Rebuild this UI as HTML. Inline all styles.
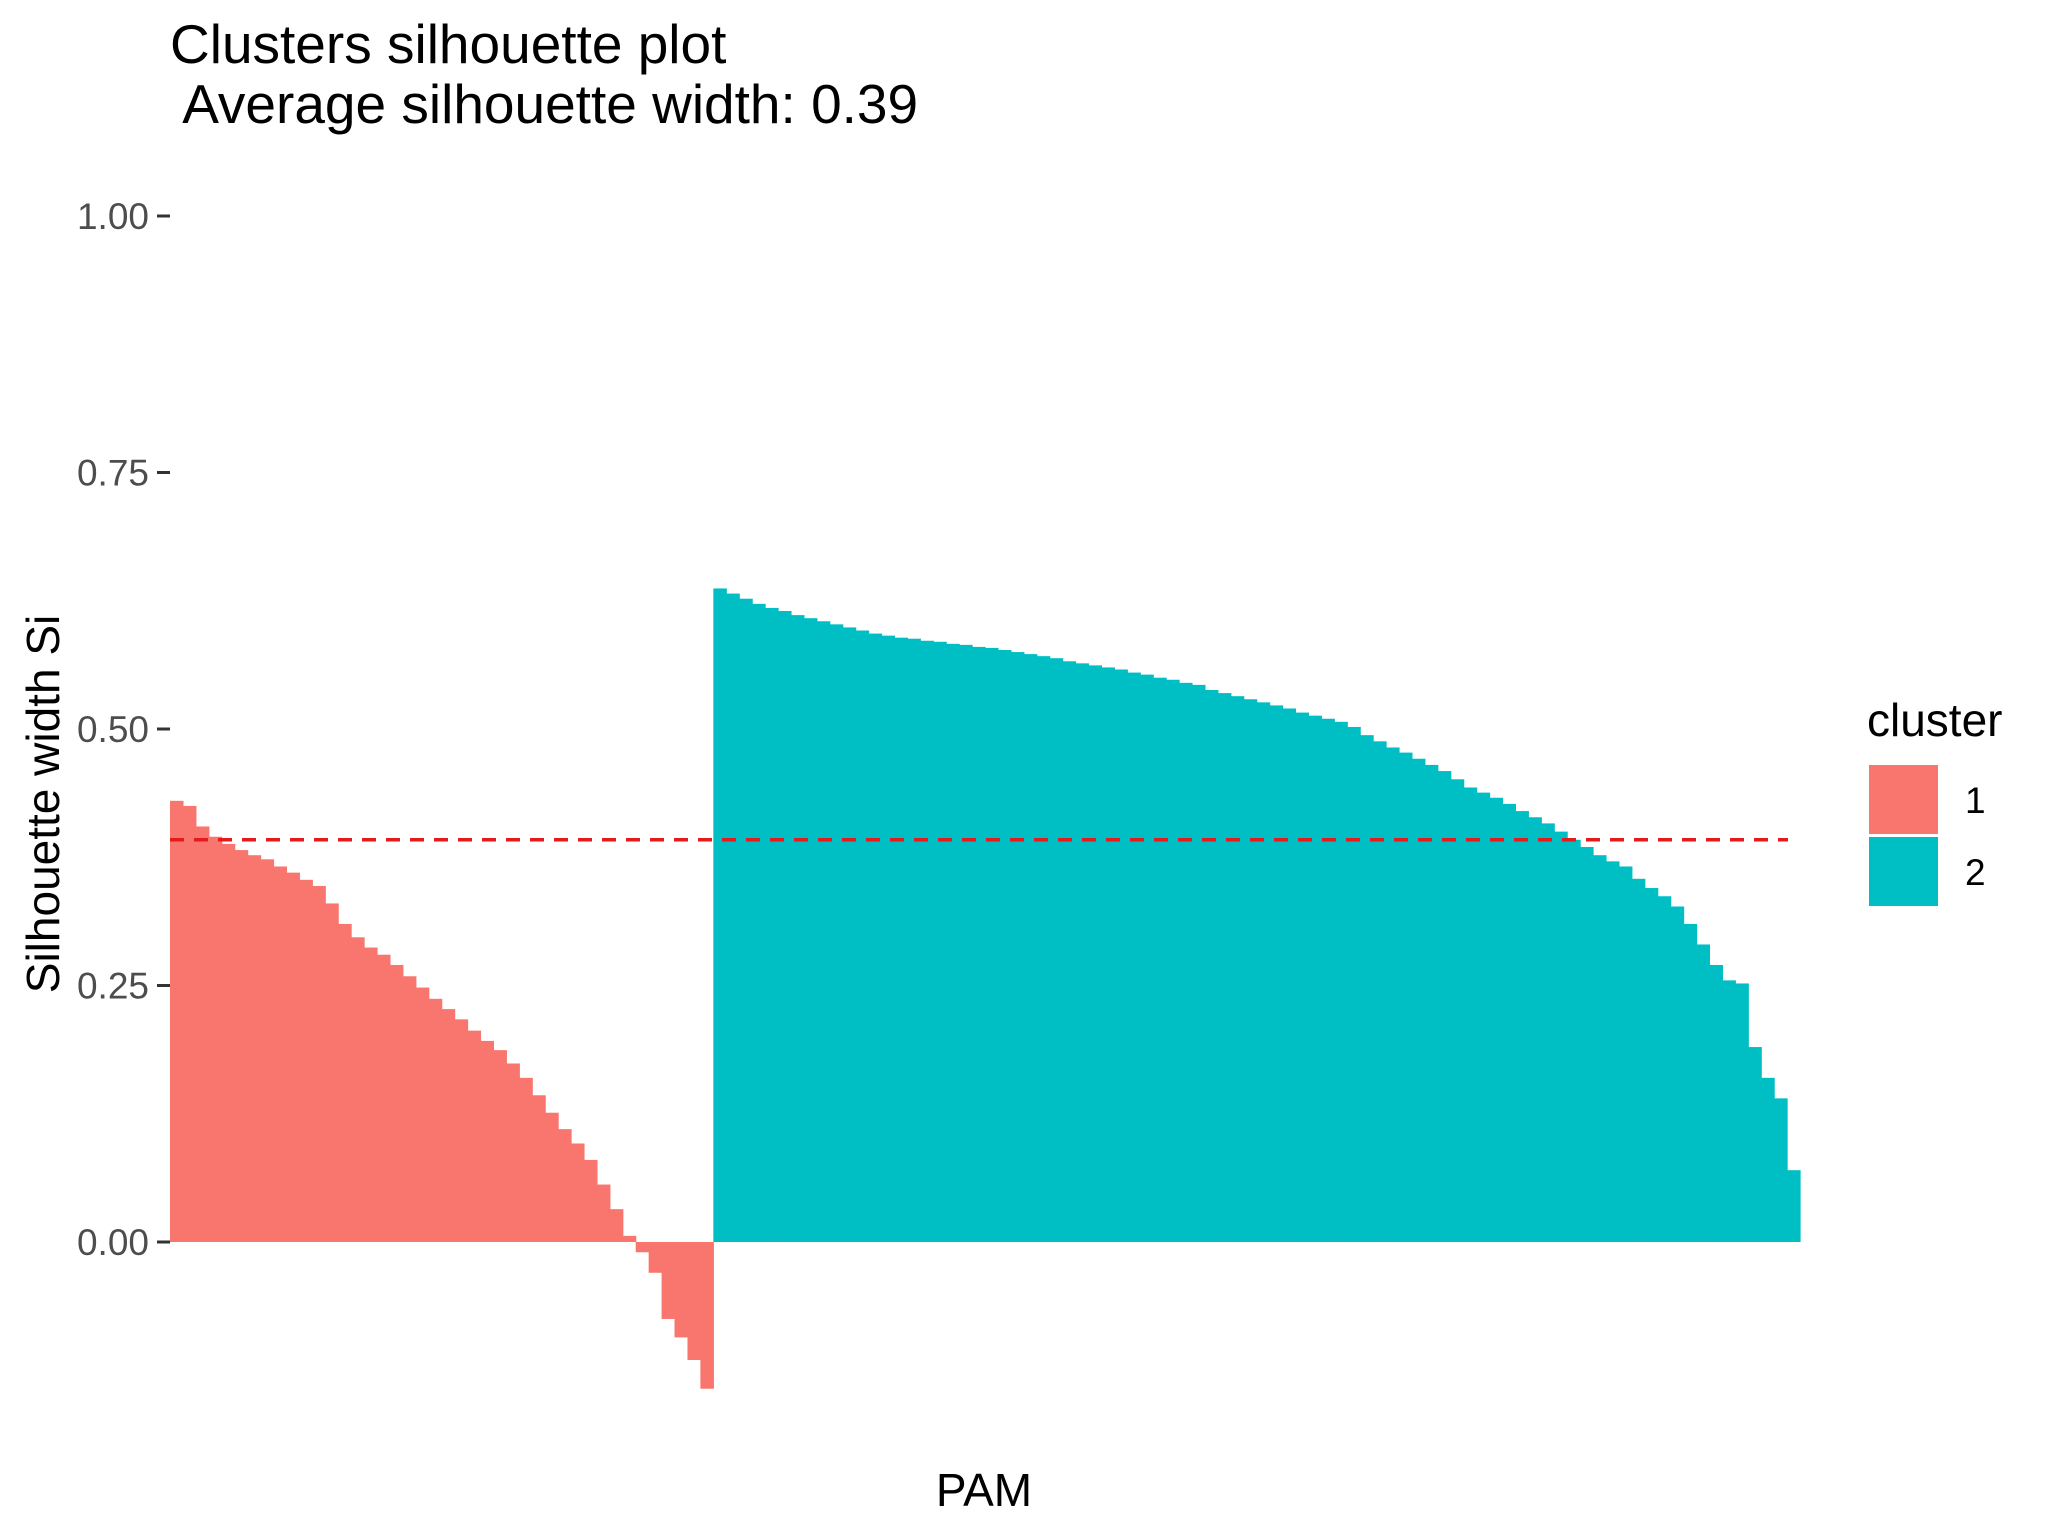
<!DOCTYPE html>
<html><head><meta charset="utf-8"><style>
html,body{margin:0;padding:0;background:#fff;}
svg{display:block;font-family:"Liberation Sans",Arial,sans-serif;}
</style></head><body>
<svg id="chart" width="2048" height="1536" viewBox="0 0 2048 1536">
<text x="170" y="63" font-size="55" fill="#000">Clusters silhouette plot</text>
<text x="170" y="123" font-size="55" fill="#000" xml:space="preserve"> Average silhouette width: 0.39</text>
<g id="bars"></g>
<g id="yaxis"></g>
<text transform="translate(59,804) rotate(-90)" text-anchor="middle" font-size="46" fill="#000">Silhouette width Si</text>
<text x="984" y="1506" text-anchor="middle" font-size="46" fill="#000">PAM</text>
<g>
<text x="1867" y="736" font-size="46" fill="#000">cluster</text>
<rect x="1869" y="765" width="69" height="69" fill="#F8766D"/>
<rect x="1869" y="837" width="69" height="69" fill="#00BFC4"/>
<text x="1965" y="813" font-size="37" fill="#000">1</text>
<text x="1965" y="885" font-size="37" fill="#000">2</text>
</g>
</svg>
<script>
const cluster1 = [0.43,0.425,0.405,0.395,0.388,0.382,0.377,0.373,0.366,0.36,0.353,0.347,0.33,0.31,0.297,0.287,0.28,0.27,0.259,0.248,0.237,0.227,0.217,0.206,0.196,0.187,0.174,0.16,0.143,0.126,0.11,0.096,0.08,0.056,0.032,0.006,-0.01,-0.03,-0.075,-0.093,-0.115,-0.143];
const cluster2 = [0.637,0.632,0.627,0.622,0.618,0.615,0.611,0.608,0.605,0.602,0.599,0.596,0.593,0.591,0.589,0.588,0.586,0.585,0.583,0.582,0.580,0.579,0.577,0.575,0.573,0.571,0.569,0.566,0.564,0.562,0.560,0.558,0.555,0.553,0.550,0.548,0.545,0.543,0.538,0.535,0.532,0.529,0.526,0.523,0.520,0.516,0.513,0.510,0.507,0.502,0.494,0.488,0.482,0.477,0.471,0.465,0.459,0.451,0.443,0.438,0.433,0.427,0.420,0.414,0.408,0.400,0.392,0.385,0.377,0.371,0.366,0.354,0.345,0.337,0.327,0.310,0.290,0.270,0.255,0.252,0.190,0.160,0.140,0.070];
const yTicks = [0, 0.25, 0.5, 0.75, 1];
const yTickLabels = ["0.00","0.25","0.50","0.75","1.00"];
const avgWidth = 0.392;
const colors = ["#F8766D","#00BFC4"];

const NS="http://www.w3.org/2000/svg";
const X0=170, X1=1800, Y0=1242, YPER=1026;
const y = v => Y0 - v*YPER;
const all = cluster1.map(v=>[v,0]).concat(cluster2.map(v=>[v,1]));
const bw = (X1-X0)/all.length;
const x = i => X0 + i*bw;
const bars=document.getElementById('bars');
all.forEach((d,i)=>{
  const r=document.createElementNS(NS,'rect');
  const top=Math.min(y(d[0]),y(0)), h=Math.abs(y(d[0])-y(0));
  r.setAttribute('x',x(i)); r.setAttribute('y',top);
  r.setAttribute('width',bw+0.6); r.setAttribute('height',h);
  r.setAttribute('fill',colors[d[1]]);
  
  
  bars.appendChild(r);
});
const ln=document.createElementNS(NS,'line');
ln.setAttribute('x1',X0); ln.setAttribute('x2',1788);
ln.setAttribute('y1',y(avgWidth)); ln.setAttribute('y2',y(avgWidth));
ln.setAttribute('stroke','#E41A1C'); ln.setAttribute('stroke-width','3.5');
ln.setAttribute('stroke-dasharray','14 10');


bars.appendChild(ln);
const ya=document.getElementById('yaxis');
yTicks.forEach((t,i)=>{
  const tk=document.createElementNS(NS,'line');
  tk.setAttribute('x1',157); tk.setAttribute('x2',170);
  tk.setAttribute('y1',y(t)); tk.setAttribute('y2',y(t));
  tk.setAttribute('stroke','#333'); tk.setAttribute('stroke-width','3');
  
  
  ya.appendChild(tk);
  const tx=document.createElementNS(NS,'text');
  tx.setAttribute('x',149); tx.setAttribute('y',y(t)+13);
  tx.setAttribute('text-anchor','end'); tx.setAttribute('font-size','37');
  tx.setAttribute('fill','#4D4D4D');
  tx.textContent=yTickLabels[i];
  
  
  ya.appendChild(tx);
});
</script>
</body></html>
